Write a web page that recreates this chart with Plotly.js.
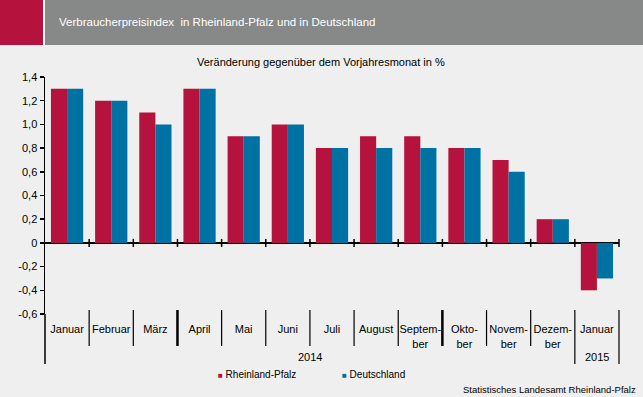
<!DOCTYPE html>
<html><head><meta charset="utf-8">
<script src="https://cdn.plot.ly/plotly-3.0.1.min.js"></script>
<style>html,body{margin:0;padding:0;background:#EEEFEE;}#c{width:643px;height:397px;}</style>
</head><body><div id="c"></div>
<script>
const monthLabels = ['Januar','Februar','März','April','Mai','Juni','Juli','August','Septem-<br>ber','Okto-<br>ber','Novem-<br>ber','Dezem-<br>ber','Januar'];
const years = ['2014','2014','2014','2014','2014','2014','2014','2014','2014','2014','2014','2014','2015'];
const rlp = [1.3,1.2,1.1,1.3,0.9,1.0,0.8,0.9,0.9,0.8,0.7,0.2,-0.4];
const de  = [1.3,1.2,1.0,1.3,0.9,1.0,0.8,0.8,0.8,0.8,0.6,0.2,-0.3];
const yTickVals = [-0.6,-0.4,-0.2,0,0.2,0.4,0.6,0.8,1.0,1.2,1.4];
const yTickText = ['-0,6','-0,4','-0,2','0','0,2','0,4','0,6','0,8','1,0','1,2','1,4'];
const seriesNames = ['Rheinland-Pfalz','Deutschland'];

const RED = '#B5123E', BLUE = '#0071A3', GRAY = '#878888';
const FONT = 'Liberation Sans, Arial, sans-serif';
const idx = monthLabels.map((_, i) => i);
const n = monthLabels.length;

const traces = [
  {type:'bar', x: idx, y: rlp, name: seriesNames[0], marker:{color: RED}, hoverinfo:'none'},
  {type:'bar', x: idx, y: de, name: seriesNames[1], marker:{color: BLUE}, hoverinfo:'none'}
];

// plot area in px: l=45, r=619, t=77, b=314
const L = 45, R = 619, T = 77, B = 314, W = 643, H = 397;
const px2x = p => (p - L) / (R - L);
const py2y = p => (B - p) / (B - T);

const shapes = [];
// header
shapes.push({type:'rect', xref:'paper', yref:'paper', x0:px2x(0), x1:px2x(43), y0:py2y(45), y1:py2y(0), fillcolor:RED, line:{width:0}, layer:'below'});
shapes.push({type:'rect', xref:'paper', yref:'paper', x0:px2x(43), x1:px2x(45), y0:py2y(45), y1:py2y(0), fillcolor:'#FFFFFF', line:{width:0}, layer:'below'});
shapes.push({type:'rect', xref:'paper', yref:'paper', x0:px2x(45), x1:px2x(W), y0:py2y(45), y1:py2y(0), fillcolor:GRAY, line:{width:0}, layer:'below'});
// y axis extension below
shapes.push({type:'line', xref:'paper', yref:'paper', x0:0, x1:0, y0:py2y(314), y1:py2y(364), line:{color:'#000', width:1.5}});
// category separators below plot & ticks on zero line
for (let i = 1; i <= n; i++) {
  const xp = i / n;
  const thick = (i === 3 || i === 9);
  const long = (i === n - 1 || i === n);
  shapes.push({type:'line', xref:'paper', yref:'paper', x0:xp, x1:xp, y0:py2y(310), y1:py2y(long ? 364 : 346), line:{color:'#000', width: thick ? 2.5 : 1.2}});
  shapes.push({type:'line', xref:'paper', yref:'y', ysizemode:'pixel', yanchor:0, x0:xp, x1:xp, y0:-4, y1:4, line:{color:'#000', width:1.5}});
}

const sq = c => '<span style="color:' + c + ';font-size:8px">■</span>';
const annotations = [
  {xref:'paper', yref:'paper', x:px2x(57), y:py2y(22), xanchor:'left', yanchor:'middle', text:'Verbraucherpreisindex  in Rheinland-Pfalz und in Deutschland', showarrow:false, font:{family:FONT, size:11.5, color:'#FFFFFF'}},
  {xref:'paper', yref:'paper', x:px2x(321), y:py2y(62), xanchor:'center', yanchor:'middle', text:'Veränderung gegenüber dem Vorjahresmonat in %', showarrow:false, font:{family:FONT, size:11, color:'#000'}},
  {xref:'paper', yref:'paper', x:px2x(310), y:py2y(357), xanchor:'center', yanchor:'middle', text:years[0], showarrow:false, font:{family:FONT, size:11, color:'#000'}},
  {xref:'paper', yref:'paper', x:px2x(597), y:py2y(357), xanchor:'center', yanchor:'middle', text:years[n-1], showarrow:false, font:{family:FONT, size:11, color:'#000'}},
  {xref:'paper', yref:'paper', x:px2x(216), y:py2y(374), xanchor:'left', yanchor:'middle', text:sq(RED)+' '+seriesNames[0], showarrow:false, font:{family:FONT, size:10, color:'#000'}},
  {xref:'paper', yref:'paper', x:px2x(340), y:py2y(374), xanchor:'left', yanchor:'middle', text:sq(BLUE)+' '+seriesNames[1], showarrow:false, font:{family:FONT, size:10, color:'#000'}},
  {xref:'paper', yref:'paper', x:px2x(638), y:py2y(389), xanchor:'right', yanchor:'middle', text:'Statistisches Landesamt Rheinland-Pfalz', showarrow:false, font:{family:FONT, size:9.5, color:'#000'}}
];

const layout = {
  width: W, height: H,
  margin: {l: L, r: W - R, t: T, b: H - B, pad: 0},
  paper_bgcolor: '#EEEFEE', plot_bgcolor: 'rgba(0,0,0,0)',
  showlegend: false,
  bargap: 0.27, bargroupgap: 0, barmode: 'group',
  font: {family: FONT, size: 11, color: '#000'},
  xaxis: {
    range: [-0.5, n - 0.5], tickmode: 'array', tickvals: idx, ticktext: monthLabels,
    showgrid: false, zeroline: false, showline: false,
    ticks: 'outside', ticklen: 5, tickcolor: 'rgba(0,0,0,0)',
    tickfont: {family: FONT, size: 11, color: '#000'}, fixedrange: true
  },
  yaxis: {
    range: [-0.6, 1.4], tickmode: 'array', tickvals: yTickVals, ticktext: yTickText,
    showgrid: false, zeroline: true, zerolinecolor: '#000', zerolinewidth: 1.5,
    showline: true, linecolor: '#000', linewidth: 1.5,
    ticks: 'outside', ticklen: 4, tickwidth: 1.5, tickcolor: '#000',
    tickfont: {family: FONT, size: 11, color: '#000'}, fixedrange: true
  },
  shapes: shapes,
  annotations: annotations
};

Plotly.newPlot('c', traces, layout, {staticPlot: true, displayModeBar: false});
</script></body></html>
